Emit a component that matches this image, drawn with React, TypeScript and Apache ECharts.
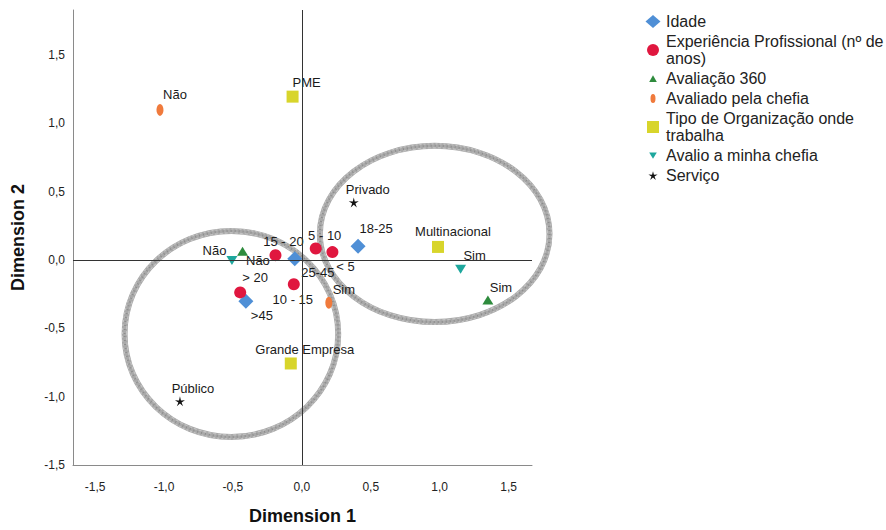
import React, { useEffect, useRef } from "react";
import * as echarts from "echarts";

// ---------- data ----------
const idadeNames = ["18-25", "25-45", ">45"];
const idadeX = [0.408, -0.051, -0.406];
const idadeY = [0.101, 0.009, -0.302];

const expNames = ["15 - 20", "5 - 10", "< 5", "10 - 15", "> 20"];
const expX = [-0.191, 0.101, 0.222, -0.058, -0.447];
const expY = [0.036, 0.084, 0.058, -0.177, -0.237];

const av360Names = ["Não", "Sim"];
const av360X = [-0.43, 1.35];
const av360Y = [0.065, -0.293];

const chefiaNames = ["Não", "Sim"];
const chefiaX = [-1.029, 0.196];
const chefiaY = [1.099, -0.312];

const tipoNames = ["PME", "Multinacional", "Grande Empresa"];
const tipoX = [-0.067, 0.988, -0.08];
const tipoY = [1.196, 0.096, -0.757];

const avalioNames = ["Não", "Sim"];
const avalioX = [-0.507, 1.152];
const avalioY = [-0.003, -0.068];

const servicoNames = ["Privado", "Público"];
const servicoX = [0.377, -0.884];
const servicoY = [0.422, -1.034];

// group ellipses: centre and radii in data units
const ellipseCX = [-0.511, 0.964];
const ellipseCY = [-0.541, 0.191];
const ellipseRX = [0.775, 0.833];
const ellipseRY = [0.754, 0.645];

const seriesNames = [
  "Idade",
  "Experiência Profissional (nº de anos)",
  "Avaliação 360",
  "Avaliado pela chefia",
  "Tipo de Organização onde trabalha",
  "Avalio a minha chefia",
  "Serviço",
];

// ---------- label placement (pixels, relative to the marker) ----------
const idadeLabelOffsets = [[18, -18], [23, 14], [16, 14]];
const expLabelOffsets = [[8, -14], [9, -13], [13, 14], [-1, 15], [15, -15]];
const av360LabelOffsets = [[-28, -1], [13, -13]];
const chefiaLabelOffsets = [[15, -15], [15, -13]];
const tipoLabelOffsets = [[14, -14], [15, -15], [14, -14]];
const avalioLabelOffsets = [[26, 0], [14, -14]];
const servicoLabelOffsets = [[14, -13], [13, -13]];

const FONT = "'Liberation Sans', Arial, Helvetica, sans-serif";

function starD(cx: number, cy: number, ro: number, ri: number) {
  let d = "";
  for (let i = 0; i < 10; i++) {
    const r = i % 2 === 0 ? ro : ri;
    const a = -Math.PI / 2 + (i * Math.PI) / 5;
    d += (i === 0 ? "M" : "L") + (cx + r * Math.cos(a)).toFixed(2) + "," + (cy + r * Math.sin(a)).toFixed(2);
  }
  return d + "Z";
}

const PAD = "M0,0M16,16";
const legendIcons = [
  "path://" + PAD + "M0.5,8L8,1.5L15.5,8L8,14.5Z",
  "path://" + PAD + "M2,8a6,6 0 1,0 12,0a6,6 0 1,0 -12,0Z",
  "path://" + PAD + "M4.2,11.5L8,4.8L11.8,11.5Z",
  "path://" + PAD + "M5.5,8a2.5,4.5 0 1,0 5,0a2.5,4.5 0 1,0 -5,0Z",
  "path://" + PAD + "M2,2L14,2L14,14L2,14Z",
  "path://" + PAD + "M4.2,5L11.8,5L8,11.2Z",
  "path://" + PAD + starD(8, 8.5, 4.8, 1.6),
];

const legendFormat: Record<string, string> = {
  "Experiência Profissional (nº de anos)": "Experiência Profissional (nº de\nanos)",
  "Tipo de Organização onde trabalha": "Tipo de Organização onde\ntrabalha",
};

function pts(xs: number[], ys: number[], names: string[], offs: number[][]) {
  return names.map((n, i) => ({ name: n, value: [xs[i], ys[i]], label: { offset: offs[i] } }));
}

export default function App() {
  const ref = useRef<HTMLDivElement>(null);
  useEffect(() => {
    if (!ref.current) return;
    const chart = echarts.init(ref.current, null, { renderer: "svg" });

    const baseLabel = {
      show: true,
      position: "inside",
      formatter: "{b}",
      color: "#1a1a1a",
      fontFamily: FONT,
      fontSize: 13,
      align: "center",
      verticalAlign: "middle",
      textBorderWidth: 0,
    };

    const scatter = (
      name: string,
      data: any[],
      symbol: string,
      size: any,
      color: string
    ) => ({
      type: "scatter",
      name,
      data,
      symbol,
      symbolSize: size,
      itemStyle: { color, opacity: 1 },
      label: baseLabel,
      z: 4,
      emphasis: { disabled: true },
    });

    const tickFmt = (v: number) =>
      Math.abs(v * 2 - Math.round(v * 2)) < 1e-6 ? v.toFixed(1).replace(".", ",") : "";

    const option: any = {
      animation: false,
      backgroundColor: "#ffffff",
      textStyle: { fontFamily: FONT },
      grid: { left: 73, right: 354, top: 10, bottom: 61, containLabel: false },
      xAxis: {
        type: "value",
        min: -1.66,
        max: 1.67,
        name: "Dimension 1",
        nameLocation: "middle",
        nameGap: 42,
        nameTextStyle: { fontFamily: FONT, fontSize: 18, fontWeight: "bold", color: "#111" },
        axisLine: { show: true, onZero: false, lineStyle: { color: "#8a8a8a", width: 1 } },
        axisTick: { show: false },
        splitLine: { show: false },
        axisLabel: {
          color: "#222",
          fontSize: 12,
          fontFamily: FONT,
          margin: 16,
          showMinLabel: false,
          showMaxLabel: false,
          formatter: tickFmt,
        },
      },
      yAxis: {
        type: "value",
        min: -1.5,
        max: 1.83,
        interval: 0.5,
        name: "Dimension 2",
        nameLocation: "middle",
        nameRotate: 90,
        nameGap: 46,
        nameTextStyle: { fontFamily: FONT, fontSize: 18, fontWeight: "bold", color: "#111" },
        axisLine: { show: true, onZero: false, lineStyle: { color: "#8a8a8a", width: 1 } },
        axisTick: { show: false },
        splitLine: { show: false },
        axisLabel: {
          color: "#222",
          fontSize: 12,
          fontFamily: FONT,
          margin: 8,
          showMaxLabel: false,
          formatter: tickFmt,
        },
      },
      legend: {
        orient: "vertical",
        left: 640,
        top: 8,
        itemWidth: 16,
        itemHeight: 16,
        itemGap: 3,
        selectedMode: false,
        textStyle: { fontFamily: FONT, fontSize: 16, color: "#222", lineHeight: 17 },
        formatter: (n: string) => legendFormat[n] || n,
        data: seriesNames.map((n, i) => ({ name: n, icon: legendIcons[i] })),
      },
      series: [
        {
          type: "custom",
          name: "ellipses",
          coordinateSystem: "cartesian2d",
          clip: false,
          silent: true,
          z: 2,
          data: ellipseCX.map((c, i) => [c, ellipseCY[i], ellipseRX[i], ellipseRY[i]]),
          renderItem: (params: any, api: any) => {
            const c = api.coord([api.value(0), api.value(1)]);
            const s = api.size([api.value(2), api.value(3)]);
            const shape = { cx: c[0], cy: c[1], rx: s[0], ry: s[1] };
            return {
              type: "group",
              children: [
                { type: "ellipse", shape, style: { fill: "none", stroke: "#a9a9a9", lineWidth: 6 } },
                { type: "ellipse", shape, style: { fill: "none", stroke: "#8c8c8c", lineWidth: 2, lineDash: [1, 3] } },
                { type: "ellipse", shape: { ...shape, rx: shape.rx + 2, ry: shape.ry + 2 }, style: { fill: "none", stroke: "#c4c4c4", lineWidth: 1.2, lineDash: [2, 2] } },
                { type: "ellipse", shape: { ...shape, rx: shape.rx - 2, ry: shape.ry - 2 }, style: { fill: "none", stroke: "#c4c4c4", lineWidth: 1.2, lineDash: [3, 2] } },
              ],
            };
          },
        },
        {
          type: "scatter",
          name: "ref",
          data: [],
          z: 1,
          markLine: {
            silent: true,
            symbol: "none",
            animation: false,
            label: { show: false },
            lineStyle: { color: "#333", width: 1, type: "solid" },
            emphasis: { disabled: true },
            data: [{ xAxis: 0 }, { yAxis: 0 }],
          },
        },
        scatter(seriesNames[0], pts(idadeX, idadeY, idadeNames, idadeLabelOffsets), "diamond", [15, 15], "#4f8fd6"),
        scatter(seriesNames[1], pts(expX, expY, expNames, expLabelOffsets), "circle", 12, "#e0173f"),
        scatter(seriesNames[2], pts(av360X, av360Y, av360Names, av360LabelOffsets), "triangle", [11, 9], "#2e8b3d"),
        scatter(
          seriesNames[3],
          pts(chefiaX, chefiaY, chefiaNames, chefiaLabelOffsets),
          "path://M0,6a3.5,6 0 1,0 7,0a3.5,6 0 1,0 -7,0Z",
          [7, 12],
          "#f07a3c"
        ),
        scatter(seriesNames[4], pts(tipoX, tipoY, tipoNames, tipoLabelOffsets), "rect", 12, "#d8d52b"),
        scatter(
          seriesNames[5],
          pts(avalioX, avalioY, avalioNames, avalioLabelOffsets),
          "path://M0,0L10,0L5,8Z",
          [11, 9],
          "#1ea79d"
        ),
        scatter(
          seriesNames[6],
          pts(servicoX, servicoY, servicoNames, servicoLabelOffsets),
          "path://" + starD(10, 10.5, 10, 3.2),
          10,
          "#111111"
        ),
      ],
    };

    chart.setOption(option);
    return () => chart.dispose();
  }, []);

  return (
    <div
      ref={ref}
      style={{ position: "fixed", left: 0, top: 0, width: 886, height: 530, background: "#fff" }}
    />
  );
}
